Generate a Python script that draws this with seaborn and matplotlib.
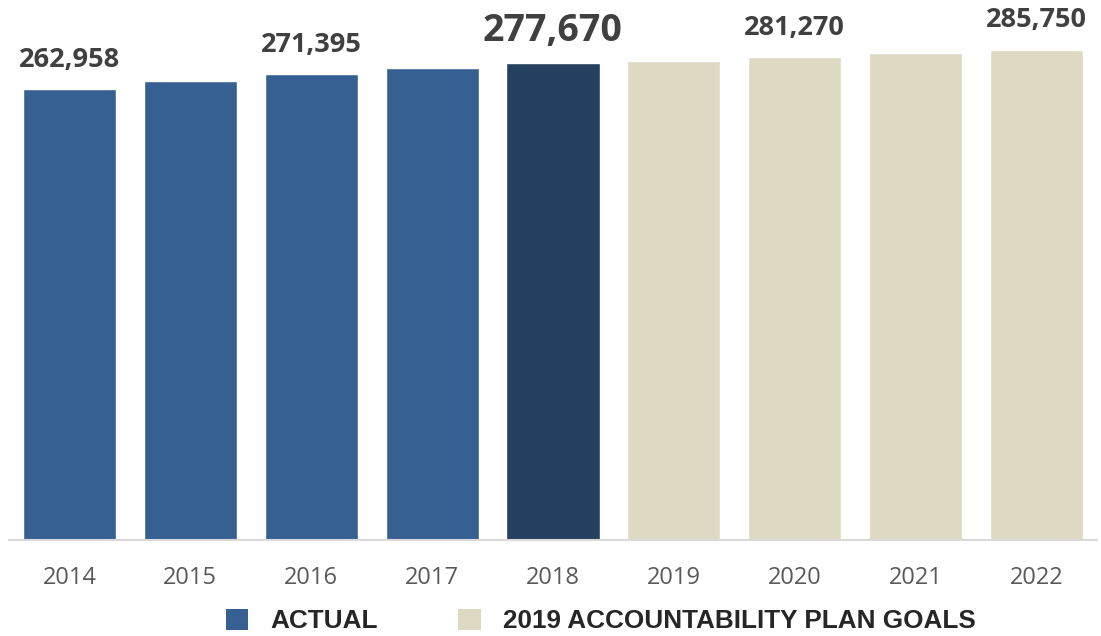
import matplotlib
matplotlib.use("Agg")
import matplotlib.pyplot as plt
from matplotlib.patches import Patch
import seaborn as sns
import pandas as pd

years = ["2014", "2015", "2016", "2017", "2018", "2019", "2020", "2021", "2022"]
values = [262958, 267500, 271395, 275000, 277670, 279100, 281270, 283800, 285750]
status = ["actual", "actual", "actual", "actual", "current", "goal", "goal", "goal", "goal"]
labeled_years = ["2014", "2016", "2018", "2020", "2022"]
highlight_year = "2018"
legend_labels = ["ACTUAL", "2019 ACCOUNTABILITY PLAN GOALS"]

colors = {"actual": "#376092", "current": "#253F60", "goal": "#DDD9C3"}

df = pd.DataFrame({"year": years, "value": values, "status": status})

sns.set_theme(style="white")
plt.rcParams["font.family"] = ["Open Sans", "DejaVu Sans"]

fig = plt.figure(figsize=(11.01, 6.36), dpi=100)
ax = fig.add_axes([9 / 1101, 96 / 636, 1088 / 1101, 540 / 636])

palette = [colors[s] for s in status]
sns.barplot(data=df, x="year", y="value", hue="year", palette=palette,
            legend=False, width=0.77, dodge=False, ax=ax, saturation=1)

ax.set_xlim(-0.5, 8.5)
ax.set_ylim(0, 540 * 582.7)
ax.set_xlabel("")
ax.set_ylabel("")
ax.set_yticks([])
for s in ["top", "left", "right"]:
    ax.spines[s].set_visible(False)
ax.spines["bottom"].set_color("#D9D9D9")
ax.spines["bottom"].set_linewidth(1.5)
ax.tick_params(axis="x", length=0, pad=18.5, labelsize=17, labelcolor="#595959")

for i, (y, v) in enumerate(zip(years, values)):
    if y in labeled_years:
        big = (y == highlight_year)
        ax.annotate(f"{v:,}", xy=(i, v), xytext=(0, 16), textcoords="offset points",
                    ha="center", va="baseline", fontsize=27 if big else 19.5,
                    fontweight="bold", color="#404040")

handles = [Patch(facecolor=colors["actual"], edgecolor="none"),
           Patch(facecolor=colors["goal"], edgecolor="none")]
fig.legend(handles, legend_labels, loc="center", bbox_to_anchor=(600.5 / 1101, 1 - 621 / 636),
           ncol=2, frameon=False, handlelength=0.88, handleheight=0.88, handletextpad=0.84,
           columnspacing=3.06, borderpad=0, borderaxespad=0,
           prop={"family": ["Liberation Sans", "DejaVu Sans"], "weight": "bold", "size": 18.8})

fig.savefig("out.png", dpi=100)
